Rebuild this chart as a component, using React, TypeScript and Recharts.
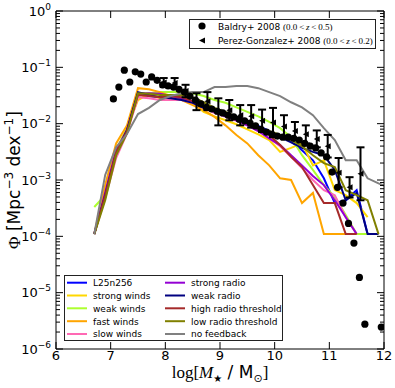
import React from 'react';
import { ComposedChart, Line, Scatter, XAxis, YAxis, ErrorBar } from 'recharts';

// ---- model stellar mass function grid (log10 M*) ----
const modelMass = [6.7, 6.9, 7.1, 7.3, 7.5, 7.7, 7.9, 8.1, 8.3, 8.5, 8.7, 8.9, 9.1, 9.3, 9.5, 9.7, 9.9, 10.1, 10.3, 10.5, 10.7, 10.9, 11.1, 11.3, 11.5, 11.7, 11.9, 12.0];

// log10 Phi, one array per run
const l25n256 = [-3.96, -3.22, -2.5, -2.11, -1.46, -1.51, -1.53, -1.53, -1.55, -1.6, -1.69, -1.76, -1.83, -1.9, -1.97, -2.04, -2.13, -2.22, -2.31, -2.47, -2.65, -2.97, -3.41, -3.36, -3.18, -3.96];
const strongWinds = [-3.96, -3.27, -2.47, -2.08, -1.58, -1.47, -1.55, -1.58, -1.58, -1.63, -1.79, -1.87, -1.94, -2.01, -2.1, -2.19, -2.29, -2.5, -2.43, -2.35, -2.74, -2.65, -3.18, -3.27, -3.41, -3.66];
const weakWinds = [-3.48, -3.27, -2.47, -2.08, -1.46, -1.46, -1.44, -1.44, -1.44, -1.46, -1.51, -1.58, -1.63, -1.71, -1.79, -1.87, -1.97, -2.08, -2.24, -2.56, -2.82, -3.09, -3.3, -3.62, -3.96, -3.96];
const fastWinds = [-3.96, -3.09, -2.35, -2.03, -1.37, -1.39, -1.44, -1.51, -1.58, -1.67, -1.76, -1.88, -2.03, -2.2, -2.35, -2.56, -2.74, -2.97, -3.0, -3.41, -3.23, -3.96, -3.96, -3.96];
const slowWinds = [-3.96, -3.32, -2.61, -2.17, -1.53, -1.55, -1.58, -1.58, -1.58, -1.63, -1.72, -1.81, -1.88, -1.95, -2.03, -2.13, -2.26, -2.4, -2.59, -2.79, -3.0, -3.18, -3.27, -3.66, -3.96];
const strongRadio = [-3.96, -3.22, -2.47, -2.11, -1.47, -1.46, -1.47, -1.51, -1.55, -1.62, -1.72, -1.78, -1.85, -1.94, -2.03, -2.13, -2.26, -2.38, -2.56, -2.74, -2.93, -3.09, -3.36, -3.66, -3.96];
const weakRadio = [-3.96, -3.27, -2.52, -2.11, -1.44, -1.49, -1.53, -1.55, -1.58, -1.63, -1.72, -1.79, -1.87, -1.92, -1.99, -2.06, -2.13, -2.24, -2.33, -2.43, -2.5, -2.56, -2.82, -3.36, -3.23, -3.96, -3.96];
const highRadioThreshold = [-3.96, -3.27, -2.5, -2.13, -1.49, -1.51, -1.53, -1.51, -1.53, -1.6, -1.69, -1.76, -1.83, -1.9, -1.99, -2.08, -2.2, -2.38, -2.59, -2.77, -3.09, -3.41, -3.41, -3.96, -3.96];
const lowRadioThreshold = [-3.96, -3.36, -2.56, -2.17, -1.46, -1.47, -1.49, -1.49, -1.49, -1.53, -1.62, -1.72, -1.79, -1.88, -1.99, -2.08, -2.13, -2.2, -2.29, -2.4, -2.56, -2.7, -2.77, -3.18, -3.27, -3.36, -3.96];
const noFeedback = [-3.96, -2.91, -2.42, -2.18, -1.83, -1.72, -1.58, -1.51, -1.46, -1.44, -1.44, -1.35, -1.35, -1.33, -1.33, -1.37, -1.44, -1.51, -1.62, -1.71, -1.85, -2.08, -2.29, -2.65, -2.65, -2.97, -3.06, -3.1];

const seriesNames = ['L25n256', 'strong winds', 'weak winds', 'fast winds', 'slow winds', 'strong radio', 'weak radio', 'high radio threshold', 'low radio threshold', 'no feedback'];
const seriesColors = ['#0000ff', '#ffd700', '#adff2f', '#ffa500', '#ff69b4', '#9400d3', '#000080', '#a52a2a', '#808000', '#808080'];
const seriesValues = [l25n256, strongWinds, weakWinds, fastWinds, slowWinds, strongRadio, weakRadio, highRadioThreshold, lowRadioThreshold, noFeedback];

// ---- Baldry+ 2008 observations ----
const baldryMass = [7.05, 7.15, 7.25, 7.35, 7.45, 7.55, 7.65, 7.75, 7.85, 7.95, 8.05, 8.15, 8.25, 8.35, 8.45, 8.55, 8.65, 8.75, 8.85, 8.95, 9.05, 9.15, 9.25, 9.35, 9.45, 9.55, 9.65, 9.75, 9.85, 9.95, 10.05, 10.15, 10.25, 10.35, 10.45, 10.55, 10.65, 10.75, 10.85, 10.95, 11.05, 11.15, 11.25, 11.35, 11.45, 11.55, 11.65, 11.95];
const baldryLogPhi = [-1.56, -1.35, -1.05, -1.26, -1.08, -1.12, -1.26, -1.17, -1.23, -1.31, -1.33, -1.35, -1.39, -1.44, -1.51, -1.58, -1.65, -1.71, -1.74, -1.78, -1.81, -1.85, -1.88, -1.92, -1.95, -1.99, -2.04, -2.1, -2.15, -2.19, -2.22, -2.24, -2.24, -2.26, -2.29, -2.35, -2.4, -2.43, -2.52, -2.59, -2.86, -3.13, -3.41, -3.77, -4.12, -4.73, -5.56, -5.61];

// ---- Perez-Gonzalez+ 2008 observations ----
const pgMass = [7.97, 8.17, 8.37, 8.57, 8.77, 8.97, 9.17, 9.37, 9.57, 9.77, 9.97, 10.17, 10.37, 10.57, 10.77, 10.97, 11.17, 11.37, 11.57];
const pgLogPhi = [-1.27, -1.28, -1.42, -1.61, -1.6, -1.79, -1.76, -1.85, -1.87, -1.95, -1.98, -2.05, -2.13, -2.19, -2.27, -2.4, -2.87, -3.13, -2.89];
const pgLogErr = [0.08, 0.09, 0.11, 0.15, 0.16, 0.24, 0.18, 0.18, 0.2, 0.2, 0.26, 0.2, 0.16, 0.16, 0.15, 0.2, 0.26, 0.18, 0.47];

// ---- axes ----
const xTicks = [6, 7, 8, 9, 10, 11, 12];
const yMajorExponents = [-6, -5, -4, -3, -2, -1, 0];
const minorMantissas = [2, 3, 4, 5, 6, 7, 8, 9];
const yTicks: number[] = [...yMajorExponents];
yMajorExponents.slice(0, -1).forEach((e) => minorMantissas.forEach((m) => yTicks.push(e + Math.log10(m))));
yTicks.sort((a, b) => a - b);

const modelData = modelMass.map((x, i) => {
  const row: any = { x };
  seriesValues.forEach((vals, k) => {
    row['s' + k] = vals[i] === undefined ? null : vals[i];
  });
  return row;
});
const baldryData = baldryMass.map((x, i) => ({ x, y: baldryLogPhi[i] }));
const pgData = pgMass.map((x, i) => ({ x, y: pgLogPhi[i], err: pgLogErr[i] }));

const SANS = 'DejaVu Sans';
const SERIF = 'Liberation Serif';
const THIN = '\u2009';

const isMajor = (v: number) => Math.abs(v - Math.round(v)) < 1e-9;
const expText = (v: number) => (Math.round(v) === 0 ? '0' : '\u2212' + Math.abs(Math.round(v)));

const LeftTick = (p: any) => {
  const { x, y, payload } = p;
  const v = payload.value;
  const maj = isMajor(v);
  return (
    <g>
      <line x1={x} y1={y} x2={x + (maj ? 7 : 4)} y2={y} stroke="#000" strokeWidth={1} />
      {maj && (
        <text x={x - 5} y={y + 4.5} textAnchor="end" fontFamily={SANS} fontSize={13} fill="#000">
          10<tspan dy={-6} fontSize={9}>{expText(v)}</tspan>
        </text>
      )}
    </g>
  );
};
const RightTick = (p: any) => {
  const { x, y, payload } = p;
  const maj = isMajor(payload.value);
  return <line x1={x} y1={y} x2={x - (maj ? 7 : 4)} y2={y} stroke="#000" strokeWidth={1} />;
};
const BottomTick = (p: any) => {
  const { x, y, payload } = p;
  return (
    <g>
      <line x1={x} y1={y} x2={x} y2={y - 7} stroke="#000" strokeWidth={1} />
      <text x={x} y={y + 11} textAnchor="middle" fontFamily={SANS} fontSize={13} fill="#000">
        {payload.value}
      </text>
    </g>
  );
};
const TopTick = (p: any) => {
  const { x, y } = p;
  return <line x1={x} y1={y} x2={x} y2={y + 7} stroke="#000" strokeWidth={1} />;
};

const Dot = (p: any) => <circle cx={p.cx} cy={p.cy} r={3.6} fill="#000" />;
const LeftTri = (p: any) => {
  const { cx, cy } = p;
  const s = 3;
  return <polygon points={`${cx - s},${cy} ${cx + s},${cy - s} ${cx + s},${cy + s}`} fill="#000" />;
};

const Redshift = ({ hi }: { hi: string }) => (
  <>
    <tspan fontFamily={SERIF} fontSize={9}>{`(0.0${THIN}<${THIN}`}</tspan>
    <tspan fontFamily={SERIF} fontSize={9} fontStyle="italic">z</tspan>
    <tspan fontFamily={SERIF} fontSize={9}>{`${THIN}<${THIN}${hi})`}</tspan>
  </>
);

export default function App() {
  const legRowY = [282.7, 295.5, 308.3, 321.2, 334];
  return (
    <div style={{ position: 'absolute', left: 0, top: 0, width: 395, height: 388, background: '#fff' }}>
      <ComposedChart width={395} height={388} data={modelData} margin={{ top: 10, right: 10, bottom: 0, left: 0 }}>
        <XAxis
          xAxisId={0}
          dataKey="x"
          type="number"
          domain={[6, 12]}
          ticks={xTicks}
          allowDataOverflow
          height={39}
          tickSize={0}
          tickMargin={0}
          tickLine={false}
          axisLine={{ stroke: '#000' }}
          tick={<BottomTick />}
          interval={0}
        />
        <XAxis
          xAxisId="top"
          orientation="top"
          dataKey="x"
          type="number"
          domain={[6, 12]}
          ticks={xTicks}
          allowDataOverflow
          height={1}
          tickSize={0}
          tickMargin={0}
          tickLine={false}
          axisLine={{ stroke: '#000' }}
          tick={<TopTick />}
          interval={0}
        />
        <YAxis
          yAxisId={0}
          type="number"
          domain={[-6, 0]}
          ticks={yTicks}
          allowDataOverflow
          width={56}
          tickSize={0}
          tickMargin={0}
          tickLine={false}
          axisLine={{ stroke: '#000' }}
          tick={<LeftTick />}
          interval={0}
        />
        <YAxis
          yAxisId="right"
          orientation="right"
          type="number"
          domain={[-6, 0]}
          ticks={yTicks}
          allowDataOverflow
          width={1}
          tickSize={0}
          tickMargin={0}
          tickLine={false}
          axisLine={{ stroke: '#000' }}
          tick={<RightTick />}
          interval={0}
        />
        {seriesNames.map((name, k) => (
          <Line
            key={name}
            name={name}
            dataKey={'s' + k}
            type="linear"
            stroke={seriesColors[k]}
            strokeWidth={2}
            dot={false}
            activeDot={false}
            isAnimationActive={false}
          />
        ))}
        <Scatter name="Perez-Gonzalez+ 2008" data={pgData} dataKey="y" shape={LeftTri} isAnimationActive={false}>
          <ErrorBar dataKey="err" direction="y" width={4} stroke="#000" strokeWidth={2} isAnimationActive={false} />
        </Scatter>
        <Scatter name="Baldry+ 2008" data={baldryData} dataKey="y" shape={Dot} isAnimationActive={false} />
      </ComposedChart>

      <svg width={395} height={388} style={{ position: 'absolute', left: 0, top: 0, pointerEvents: 'none' }}>
        {/* y label */}
        <text transform="rotate(-90 20 180)" x={20} y={180} textAnchor="middle" fontFamily={SANS} fontSize={17} fill="#000">
          <tspan fontFamily={SERIF}>Φ</tspan>
          <tspan> [Mpc</tspan>
          <tspan dy={-7} fontSize={12}>{'\u22123'}</tspan>
          <tspan dy={7}> dex</tspan>
          <tspan dy={-7} fontSize={12}>{'\u22121'}</tspan>
          <tspan dy={7}>]</tspan>
        </text>
        {/* x label */}
        <text x={220} y={378} textAnchor="middle" fontFamily={SANS} fontSize={17} fill="#000">
          <tspan fontFamily={SERIF}>log[</tspan>
          <tspan fontFamily={SERIF} fontStyle="italic">M</tspan>
          <tspan dy={4} fontSize={10}>★</tspan>
          <tspan dy={-4}> / M</tspan>
          <tspan dy={4} fontSize={11}>⊙</tspan>
          <tspan dy={-4} fontFamily={SERIF}>]</tspan>
        </text>

        {/* observation legend */}
        <rect x={189.5} y={19.5} width={186} height={29} fill="#fff" stroke="#222" strokeWidth={1} />
        <circle cx={202} cy={26} r={3.6} fill="#000" />
        <polygon points="199,40.5 205,37.5 205,43.5" fill="#000" />
        <text x={218} y={29.5} fontFamily={SANS} fontSize={9} fill="#000">
          {'Baldry+ 2008 '}
          <Redshift hi="0.5" />
        </text>
        <text x={218} y={44} fontFamily={SANS} fontSize={9} fill="#000">
          {'Perez-Gonzalez+ 2008 '}
          <Redshift hi="0.2" />
        </text>

        {/* model legend */}
        <rect x={64.5} y={275.5} width={218} height={65} fill="#fff" stroke="#222" strokeWidth={1} />
        {seriesNames.map((name, k) => {
          const col = k < 5 ? 0 : 1;
          const row = k % 5;
          const lx = col === 0 ? 67 : 165;
          const ty = legRowY[row];
          return (
            <g key={name}>
              <line x1={lx} y1={ty} x2={lx + 20} y2={ty} stroke={seriesColors[k]} strokeWidth={2} />
              <text x={lx + 26} y={ty + 3.3} fontFamily={SANS} fontSize={9} fill="#000">
                {name}
              </text>
            </g>
          );
        })}
      </svg>
    </div>
  );
}
